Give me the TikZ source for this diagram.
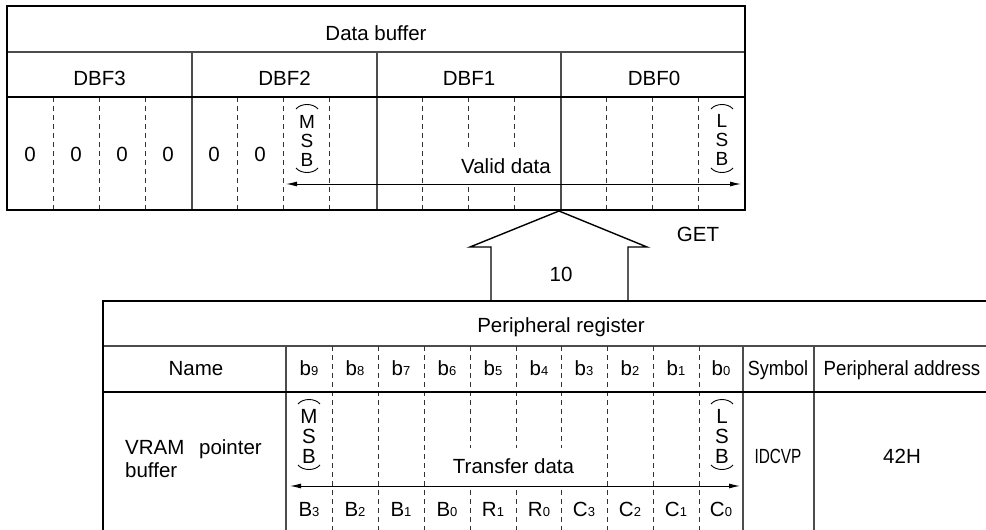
\documentclass[tikz,border=0pt]{standalone}
\usepackage{fontspec}
\setmainfont{Liberation Sans}
\usetikzlibrary{arrows.meta}
\newcommand{\dgt}[1]{{\fontsize{13}{13}\selectfont #1}}
\begin{document}
\begin{tikzpicture}[x=1pt,y=-1pt,
  txt/.style={font=\fontsize{20.5}{24}\selectfont, inner sep=0pt, anchor=base},
  stackA/.style={font=\fontsize{19}{19}\selectfont, inner sep=0pt, anchor=center, align=center},
  stackB/.style={font=\fontsize{20.5}{20}\selectfont, inner sep=0pt, anchor=center, align=center},
  bordr/.style={line width=2.6pt, line cap=rect},
  sepline/.style={line width=1.1pt, black!70},
  midthick/.style={line width=2.3pt},
  dashline/.style={line width=1pt, black!80, dash pattern=on 5pt off 4pt},
  gaplbl/.style={font=\fontsize{20.5}{24}\selectfont, fill=white, inner xsep=9pt, inner ysep=0pt, anchor=center},
  dblarrow/.style={{Latex[length=11pt,width=5pt]}-{Latex[length=11pt,width=5pt]}, line width=1pt},
  paren/.style={line width=0.9pt},
  hollow/.style={line width=1.4pt, fill=white},
]
\useasboundingbox (0,0) rectangle (986,530);
\clip (0,0) rectangle (986,530);

% ================= upper table: Data buffer =================
\draw[sepline] (7,52) -- (745,52);
\foreach \x in {192,377,561} \draw[sepline] (\x,52) -- (\x,210);
\foreach \x in {53.1,99.25,145.4,237.6,283.75,329.9,422.1,468.25,514.4,606.6,652.75,698.9}
  \draw[dashline] (\x,97) -- (\x,210);
\draw[midthick] (7,97) -- (745,97);

\node[txt] (databuf) at (376,40) {Data buffer};
\node[txt] (dbf3) at (99.5,85) {DBF3};
\node[txt] (dbf2) at (284.5,85) {DBF2};
\node[txt] (dbf1) at (469,85) {DBF1};
\node[txt] (dbf0) at (654,85) {DBF0};
\foreach \x/\n in {30/za,76/zb,122/zc,168/zd,214/ze,260/zf}
  \node[txt] (\n) at (\x,161) {0};

% MSB (upper)
\node[stackA] (umsb) at (307,141) {M\\S\\B};
\draw[paren] (296,109) .. controls (301,103) and (313,103) .. (318,109);
\draw[paren] (296,168) .. controls (301,174) and (313,174) .. (318,168);
% LSB (upper)
\node[stackA] (ulsb) at (722,139.5) {L\\S\\B};
\draw[paren] (711,109) .. controls (716,103) and (728,103) .. (733,109);
\draw[paren] (711,168) .. controls (716,174) and (728,174) .. (733,168);

\node[gaplbl, minimum height=36pt] (valid) at (506,166.5) {Valid data};
\coordinate (vL) at (286,184);
\coordinate (vR) at (741,184);
\draw[dblarrow] (vL) -- (vR);

\draw[bordr] (7,6) rectangle (745,210);

% ================= hollow GET arrow =================
\coordinate (tip) at (559,211);
\draw[hollow] (491,301) -- (491,247) -- (470,247) -- (tip) -- (647,247) -- (628,247) -- (628,301);
\node[txt] (get) at (698,241.5) {GET};
\node[txt] (ten) at (561,281.7) {10};

% ================= lower table: Peripheral register =================
\draw[sepline] (103,346) -- (1000,346);
\foreach \x in {286,743,814} \draw[sepline] (\x,346) -- (\x,540);
\foreach \x in {332,378,424,470,516,561,607,653,699}
  \draw[dashline] (\x,346) -- (\x,540);
\draw[midthick] (103,392) -- (1000,392);

\node[txt] (preg) at (561,332) {Peripheral register};
\node[txt] (name) at (196,375) {Name};
\foreach \x/\d in {309/9,355/8,401/7,447/6,493/5,539/4,584/3,630/2,676/1,721/0}
  \node[txt] (hb\d) at (\x,375) {b\dgt{\d}};
\node[txt] (sym) at (778,375.5) {\scalebox{0.88}[1]{Symbol}};
\node[txt] (paddr) at (902,375.5) {\scalebox{0.91}[1]{Peripheral address}};

\node[txt, anchor=base west] (vram) at (125,454) {VRAM\hspace{9pt} pointer};
\node[txt, anchor=base west] (buf) at (125,477.5) {buffer};

% MSB (lower)
\node[stackB] (lmsb) at (309,436.5) {M\\S\\B};
\draw[paren] (298,404) .. controls (303,398) and (315,398) .. (320,404);
\draw[paren] (298,465) .. controls (303,471) and (315,471) .. (320,465);
% LSB (lower)
\node[stackB] (llsb) at (722,436.5) {L\\S\\B};
\draw[paren] (711,404) .. controls (716,398) and (728,398) .. (733,404);
\draw[paren] (711,465) .. controls (716,471) and (728,471) .. (733,465);

\node[gaplbl, minimum height=38pt] (transfer) at (513.5,466.5) {Transfer data};
\coordinate (tL) at (290,486);
\coordinate (tR) at (740,486);
\draw[dblarrow] (tL) -- (tR);

\foreach \x/\t/\n in {309/B/3,355/B/2,401/B/1,447/B/0,493/R/1,539/R/0,584/C/3,630/C/2,676/C/1,721/C/0}
  \node[txt] (bit\t\n) at (\x,516.5) {\t\dgt{\n}};

\node[txt] (idcvp) at (778,463) {\scalebox{0.75}[1]{IDCVP}};
\node[txt] (addr) at (902,463) {42H};

\draw[bordr] (1000,301) -- (103,301) -- (103,540);
\end{tikzpicture}
\end{document}
